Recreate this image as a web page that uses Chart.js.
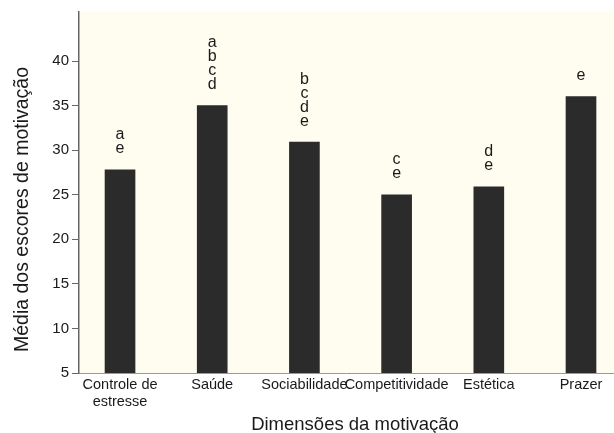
<!DOCTYPE html>
<html>
<head>
<meta charset="utf-8">
<script src="https://cdn.jsdelivr.net/npm/chart.js@4/dist/chart.umd.min.js"></script>
<style>
  html, body { margin: 0; padding: 0; background: #fff; }
  #motivChart { display: block; }
</style>
</head>
<body>
<canvas id="motivChart" width="614" height="433"></canvas>
<script>
// dimensões e médias
const dimensoes = [['Controle de', 'estresse'], 'Saúde', 'Sociabilidade', 'Competitividade', 'Estética', 'Prazer'];
const medias = [27.8, 35.0, 30.9, 25.0, 25.9, 36.0];
const letras = [['a', 'e'], ['a', 'b', 'c', 'd'], ['b', 'c', 'd', 'e'], ['c', 'e'], ['d', 'e'], ['e']];
const yTicks = [5, 10, 15, 20, 25, 30, 35, 40];

const FONT = '"Liberation Sans", Arial, Helvetica, sans-serif';
const TEXT = '#1a1a1a';

// fundo amarelado da área do gráfico
const fundo = {
  id: 'fundo',
  beforeDraw(chart) {
    const { ctx, chartArea: a } = chart;
    ctx.save();
    ctx.fillStyle = '#fffdf0';
    ctx.fillRect(a.left, a.top, a.right - a.left, a.bottom - a.top);
    ctx.restore();
  }
};

// letras de significância acima das barras
const letrasPlugin = {
  id: 'letras',
  afterDatasetsDraw(chart) {
    const { ctx } = chart;
    const bars = chart.getDatasetMeta(0).data;
    ctx.save();
    ctx.font = '16px ' + FONT;
    ctx.fillStyle = TEXT;
    ctx.textAlign = 'center';
    ctx.textBaseline = 'middle';
    bars.forEach((bar, i) => {
      const ls = letras[i];
      ls.forEach((l, j) => {
        const y = bar.y - 21 - (ls.length - 1 - j) * 14;
        ctx.fillText(l, bar.x, y);
      });
    });
    ctx.restore();
  }
};

// títulos dos eixos
const titulos = {
  id: 'titulos',
  afterDraw(chart) {
    const { ctx, chartArea: a } = chart;
    ctx.save();
    ctx.fillStyle = TEXT;
    ctx.textAlign = 'center';
    ctx.textBaseline = 'middle';
    ctx.font = '18.5px ' + FONT;
    ctx.fillText('Dimensões da motivação', (a.left + a.right) / 2 + 9, a.bottom + 52);
    ctx.font = '19.5px ' + FONT;
    ctx.translate(23, (a.top + a.bottom) / 2 + 17);
    ctx.rotate(-Math.PI / 2);
    ctx.fillText('Média dos escores de motivação', 0, 0);
    ctx.restore();
  }
};

new Chart(document.getElementById('motivChart'), {
  type: 'bar',
  data: {
    datasets: [{
      data: medias.map((v, i) => ({ x: i + 1, y: v })),
      backgroundColor: '#2b2b2b',
      barThickness: 30
    }]
  },
  options: {
    responsive: false,
    devicePixelRatio: 1,
    animation: false,
    layout: { padding: { top: 10, right: 1, left: 0, bottom: 0 } },
    plugins: {
      legend: { display: false },
      tooltip: { enabled: false }
    },
    scales: {
      x: {
        type: 'linear',
        offset: false,
        min: 0.555,
        max: 6.347,
        afterFit: s => { s.height = 60; },
        afterBuildTicks: s => { s.ticks = dimensoes.map((_, i) => ({ value: i + 1 })); },
        grid: { display: false, drawTicks: false },
        border: { color: '#999', width: 1 },
        ticks: {
          autoSkip: false,
          maxRotation: 0,
          padding: 3,
          color: TEXT,
          font: { family: FONT, size: 14.5, lineHeight: 1.2 },
          callback: v => dimensoes[v - 1]
        }
      },
      y: {
        min: 5,
        max: 45.5,
        afterFit: s => { s.width = 79; },
        afterBuildTicks: s => { s.ticks = yTicks.map(v => ({ value: v })); },
        grid: { drawOnChartArea: false, drawTicks: true, tickLength: 7, color: '#666' },
        border: { color: '#666', width: 1.5 },
        ticks: {
          padding: 3,
          color: TEXT,
          font: { family: FONT, size: 15 }
        }
      }
    }
  },
  plugins: [fundo, letrasPlugin, titulos]
});
</script>
</body>
</html>
